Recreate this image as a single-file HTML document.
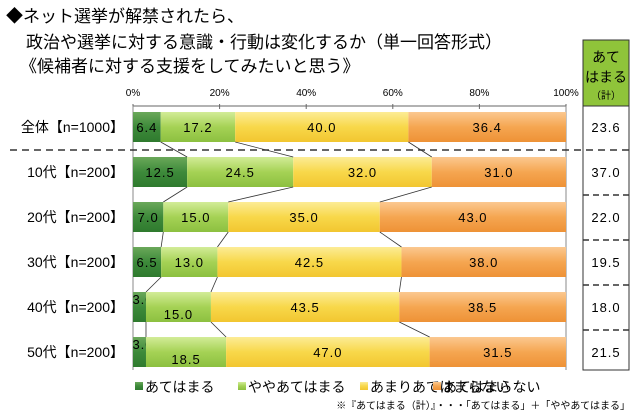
<!DOCTYPE html>
<html><head><meta charset="utf-8"><style>
body{margin:0;background:#fff;font-family:"Liberation Sans","Noto Sans CJK JP",sans-serif;}
svg text{font-family:"Liberation Sans","Noto Sans CJK JP",sans-serif;}
</style></head><body>
<svg id="c" width="640" height="414" viewBox="0 0 640 414" xmlns="http://www.w3.org/2000/svg">
<defs>
<linearGradient id="g0" x1="0" y1="0" x2="0" y2="1"><stop offset="0" stop-color="#6aa85a"/><stop offset="0.5" stop-color="#3d8a3a"/><stop offset="1" stop-color="#2f7a2e"/></linearGradient>
<linearGradient id="g1" x1="0" y1="0" x2="0" y2="1"><stop offset="0" stop-color="#d2ec98"/><stop offset="0.5" stop-color="#a5d255"/><stop offset="1" stop-color="#8cc040"/></linearGradient>
<linearGradient id="g2" x1="0" y1="0" x2="0" y2="1"><stop offset="0" stop-color="#fcec96"/><stop offset="0.5" stop-color="#f8d84a"/><stop offset="1" stop-color="#f2c630"/></linearGradient>
<linearGradient id="g3" x1="0" y1="0" x2="0" y2="1"><stop offset="0" stop-color="#fbc890"/><stop offset="0.5" stop-color="#f5a651"/><stop offset="1" stop-color="#ee9236"/></linearGradient>
</defs>
<g font-size="17" fill="#000">
<text x="6" y="22">◆ネット選挙が解禁されたら、</text>
<text x="26" y="48">政治や選挙に対する意識・行動は変化するか（単一回答形式）</text>
<text x="20" y="72">《候補者に対する支援をしてみたいと思う》</text>
</g>
<rect x="583" y="40" width="46" height="66" fill="#8fc43a" stroke="#333"/>
<text x="606" y="62" text-anchor="middle" font-size="14">あて</text>
<text x="606" y="82" text-anchor="middle" font-size="14">はまる</text>
<text x="606" y="99" text-anchor="middle" font-size="10">（計）</text>
<rect x="583" y="106" width="46" height="264" fill="#fff" stroke="#333"/>
<g id="plot"></g>
</svg>
<script>
const categories=["全体【n=1000】","10代【n=200】","20代【n=200】","30代【n=200】","40代【n=200】","50代【n=200】"];
const s1=[6.4,12.5,7.0,6.5,3.0,3.0];
const s2=[17.2,24.5,15.0,13.0,15.0,18.5];
const s3=[40.0,32.0,35.0,42.5,43.5,47.0];
const s4=[36.4,31.0,43.0,38.0,38.5,31.5];
const totals=["23.6","37.0","22.0","19.5","18.0","21.5"];
const ticks=[0,20,40,60,80,100];
const seriesNames=["あてはまる","ややあてはまる","あまりあてはまらない","あてはまらない"];
const NS="http://www.w3.org/2000/svg";
const g=document.getElementById('plot');
const x0=133,x1=566;
function xs(v){return x0+(x1-x0)*v/100;}
function yc(i){return i===0?127:172+(i-1)*45;}
const bh=30;
function el(t,a,p){const e=document.createElementNS(NS,t);for(const k in a)e.setAttribute(k,a[k]);(p||g).appendChild(e);return e;}
ticks.forEach(t=>{
 const tx=el('text',{x:xs(t),y:96,'text-anchor':'middle','font-size':10});
 tx.textContent=t+'%';
 
 
 const tl=el('line',{x1:xs(t),x2:xs(t),y1:104,y2:109,stroke:'#666'});
 
 
});
const ax=el('line',{x1:x0,x2:x1,y1:106,y2:106,stroke:'#666'});


const ay=el('line',{x1:x0,x2:x0,y1:106,y2:370,stroke:'#888'});


const ar=el('line',{x1:x1,x2:x1,y1:106,y2:370,stroke:'#888'});


const series=[s1,s2,s3,s4];
const bounds=[];
categories.forEach((c,i)=>{
 let acc=0;const b=[];
 const lab=el('text',{x:124,y:yc(i)+5,'text-anchor':'end','font-size':14});
 lab.textContent=c;
 
 
 series.forEach((s,k)=>{
  const v=s[i];
  const r=el('rect',{x:xs(acc),y:yc(i)-bh/2,width:xs(acc+v)-xs(acc),height:bh,fill:'url(#g'+k+')'});
  
  
  let tx=xs(acc+v/2),ty=yc(i)+5;
  if(v<5){tx=xs(acc)+10;ty=yc(i)-3;}
  if(k===1&&s1[i]<5){ty=yc(i)+12;}
  const t=el('text',{x:tx,y:ty,'text-anchor':'middle','font-size':13,'letter-spacing':'1'});
  t.textContent=v.toFixed(1);
  
  
  acc+=v;b.push(acc);
 });
 bounds.push(b);
 const tv=el('text',{x:606,y:yc(i)+5,'text-anchor':'middle','font-size':13,'letter-spacing':'1'});
 tv.textContent=totals[i];
 
 
 if(i>=2){
  const d=el('line',{x1:583,x2:629,y1:yc(i)-22,y2:yc(i)-22,stroke:'#333','stroke-dasharray':'6,4','stroke-width':1.5});
  
  
 }
});
for(let i=0;i<categories.length-1;i++){
 for(let k=0;k<3;k++){
  const l=el('line',{x1:xs(bounds[i][k]),y1:yc(i)+bh/2,x2:xs(bounds[i+1][k]),y2:yc(i+1)-bh/2,stroke:'#333','stroke-width':0.8});
  
  
 }
}
const dl=el('line',{x1:10,x2:630,y1:150,y2:150,stroke:'#333','stroke-dasharray':'7,5','stroke-width':1.5});


const lx=[135,238,360,433];
seriesNames.forEach((n,k)=>{
 const r=el('rect',{x:lx[k],y:382,width:8,height:8,fill:'url(#g'+k+')'});
 
 
 const t=el('text',{x:lx[k]+10,y:392,'font-size':14});
 t.textContent=n;
 
 
});
const note=el('text',{x:630,y:409,'text-anchor':'end','font-size':10});
note.textContent='※『あてはまる（計）』・・・「あてはまる」＋「ややあてはまる」';


</script>
</body></html>
